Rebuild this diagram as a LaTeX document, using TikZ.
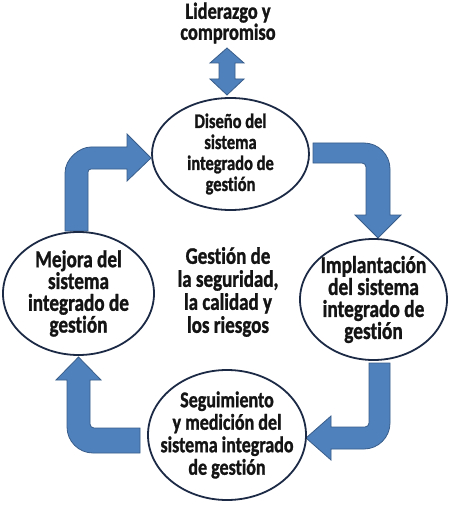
\documentclass[tikz,border=0pt]{standalone}
\usepackage{fontspec}
\setmainfont{Carlito}[Ligatures=NoCommon]
\newfontfamily\rfont{Carlito}[UprightFont={* Bold}, FakeStretch=0.8, FakeBold=1.2, Ligatures=NoCommon]
\usetikzlibrary{shapes.geometric}
\definecolor{arrowblue}{RGB}{79,129,189}
\definecolor{arrowedge}{RGB}{56,93,138}
\definecolor{ringedge}{RGB}{28,42,70}
\definecolor{txt}{RGB}{20,20,20}
\tikzset{
  ring/.style={draw=ringedge, line width=1.8pt, fill=white, ellipse, inner sep=0pt},
  ringtext/.style={align=center, text=txt, inner sep=0pt},
  blockarrow/.style={fill=arrowblue, draw=arrowedge, line width=0.8pt, line join=miter}
}
\begin{document}
\begin{tikzpicture}[x=1pt,y=-1pt]
\useasboundingbox (0,0) rectangle (450,505);
\fill[white] (0,0) rectangle (450,505);

% block arrows
% double arrow
\path[blockarrow] (227,48) -- (244,63) -- (235,63) -- (235,79) -- (244,79) -- (227,95)
  -- (210,79) -- (219,79) -- (219,63) -- (210,63) -- cycle;
% top-right
\path[blockarrow] (313,143) -- (364,143) .. controls (378.3,143) and (390,154.7) .. (390,169)
  -- (390,215) -- (401,215) -- (378,238) -- (355,215) -- (366,215) -- (366,167)
  .. controls (366,164.8) and (364.2,163) .. (362,163) -- (313,163) -- cycle;
% right-bottom
\path[blockarrow] (369,363) -- (390,363) -- (390,423) .. controls (390,437.3) and (378.3,449) .. (364,449)
  -- (331,449) -- (331,460) -- (306,438) -- (331,416) -- (331,427) -- (365,427)
  .. controls (367.2,427) and (369,425.2) .. (369,423) -- cycle;
% bottom-left
\path[blockarrow] (140,428) -- (94,428) .. controls (91.8,428) and (90,426.2) .. (90,424)
  -- (90,380) -- (101,380) -- (78.5,357) -- (56,380) -- (67,380) -- (67,427)
  .. controls (67,441.3) and (78.7,453) .. (93,453) -- (140,453) -- cycle;
% top-left
\path[blockarrow] (65,231) -- (65,173) .. controls (65,158.6) and (79.6,147) .. (91,147)
  -- (127,147) -- (127,134) -- (151,158) -- (127,181) -- (127,169) -- (91,169)
  .. controls (89.3,169) and (88,170.3) .. (88,172) -- (88,231) -- cycle;

% ellipses
\node[ring, minimum width=157pt, minimum height=112pt] (dis) at (230.5,154) {};
\node[ring, minimum width=151pt, minimum height=123pt] (mej) at (78.5,293.5) {};
\node[ring, minimum width=147pt, minimum height=121pt] (imp) at (373.5,299.5) {};
\node[ring, minimum width=158pt, minimum height=130pt] (seg) at (227,435) {};

\node[ringtext, font=\rfont\fontsize{20.6}{21}\selectfont] (tdis) at (dis.center) {Diseño del\\sistema\\integrado de\\gestión};
\node[ringtext, font=\rfont\fontsize{24}{21.8}\selectfont] (tmej) at (mej.center) {Mejora del\\sistema\\integrado de\\gestión};
\node[ringtext, font=\rfont\fontsize{24.2}{22}\selectfont] (timp) at (imp.center) {Implantación\\del sistema\\integrado de\\gestión};
\node[ringtext, font=\rfont\fontsize{22.5}{22.5}\selectfont] (tseg) at (seg.center) {Seguimiento\\y medición del\\sistema integrado\\de gestión};

\node[ringtext, font=\rfont\fontsize{23.75}{23}\selectfont] (cen) at (228,292) {Gestión de\\la seguridad,\\la calidad y\\los riesgos};
\node[ringtext, font=\rfont\fontsize{23}{21}\selectfont] (lid) at (228,23) {Liderazgo y\\compromiso};
\end{tikzpicture}
\end{document}
